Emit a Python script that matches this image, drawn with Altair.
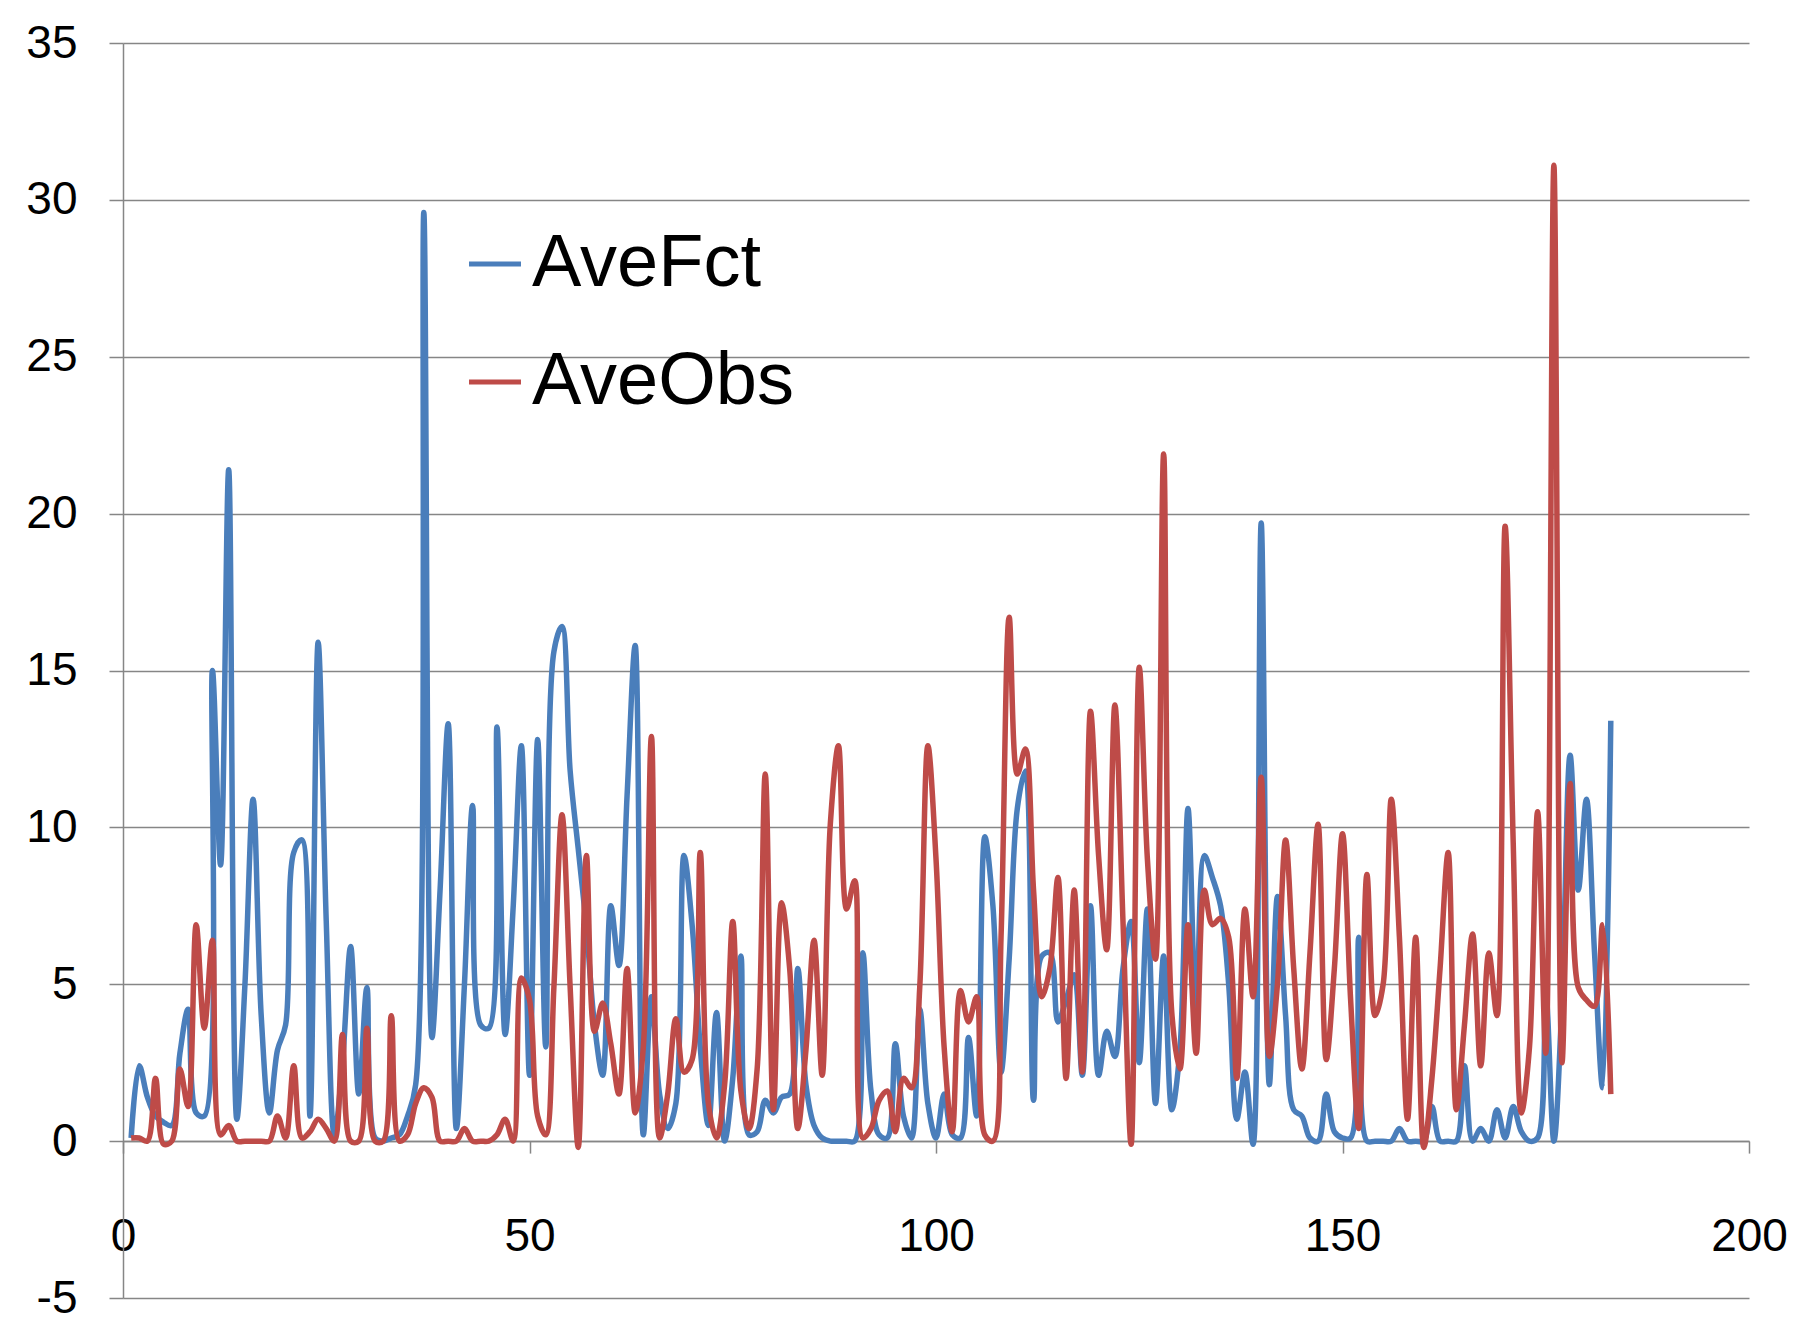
import altair as alt
import pandas as pd

x_vals = list(range(1, 184))

ave_fct = [
    0.1, 2.4, 1.4, 0.8, 0.6, 0.5, 2.8, 4.2, 0.9, 0.8,
    15.0, 8.8, 21.4, 0.7, 5.0, 10.9, 4.0, 0.9, 2.9, 3.7,
    9.2, 9.6, 0.8, 15.9, 7.0, 0.2, 2.5, 6.2, 1.5, 4.9,
    0.1, 0.0, 0.1, 0.2, 0.8, 1.8, 29.6, 3.3, 8.0, 13.3,
    0.4, 5.0, 10.7, 3.7, 3.6, 13.2, 3.4, 7.5, 12.6, 2.1,
    12.8, 3.0, 15.6, 16.4, 11.8, 9.3, 6.8, 3.7, 2.1, 7.5,
    5.6, 11.0, 15.8, 0.2, 4.6, 1.5, 0.4, 1.2, 9.1, 6.9,
    3.0, 0.5, 4.1, 0.0, 2.0, 5.9, 0.2, 0.3, 1.3, 0.9,
    1.4, 1.5, 5.5, 1.8, 0.5, 0.1, 0.0, 0.0, 0.0, 0.0,
    6.0, 1.6, 0.2, 0.1, 3.1, 0.8, 0.1, 4.2, 1.2, 0.1,
    1.5, 0.2, 0.1, 3.3, 0.8, 9.7, 7.5, 2.2, 5.8, 10.6,
    11.8, 1.3, 5.9, 6.0, 3.8, 4.5, 5.3, 2.1, 7.5, 2.1,
    3.5, 2.7, 5.5, 7.0, 2.5, 7.4, 1.2, 5.9, 1.0, 2.9,
    10.6, 4.1, 9.1, 8.4, 7.5, 5.0, 0.7, 2.2, -0.1, 19.7,
    1.8, 7.8, 4.0, 1.0, 0.8, 0.1, 0.0, 1.5, 0.3, 0.1,
    0.1, 6.5, 0.0, 0.0, 0.0, 0.0, 0.4, 0.0, 0.0, 0.0,
    1.1, 0.0, 0.0, 0.0, 2.4, 0.0, 0.4, 0.0, 1.0, 0.1,
    1.1, 0.3, 0.0, 0.1, 4.7, 0.0, 4.5, 12.3, 8.0, 10.9,
    6.0, 1.7, 13.4,
]

ave_obs = [
    0.1, 0.1, 0.0, 2.0, -0.1, 0.0, 2.3, 1.1, 6.9, 3.6,
    6.4, 0.2, 0.5, 0.0, 0.0, 0.0, 0.0, 0.0, 0.8, 0.1,
    2.4, 0.1, 0.3, 0.7, 0.4, 0.0, 3.4, 0.0, 0.0, 3.6,
    0.0, 0.0, 4.0, 0.0, 0.2, 1.2, 1.7, 1.4, 0.0, 0.0,
    0.0, 0.4, 0.0, 0.0, 0.0, 0.2, 0.7, 0.0, 5.2, 4.5,
    0.8, 0.2, 4.9, 10.4, 4.9, -0.2, 9.1, 3.5, 4.4, 3.1,
    1.5, 5.5, 0.9, 3.0, 12.9, 0.1, 1.5, 3.9, 2.2, 2.6,
    9.2, 1.2, 0.1, 1.8, 7.0, 1.6, 0.4, 2.3, 11.7, 1.0,
    7.6, 5.5, 0.4, 2.9, 6.4, 2.1, 10.1, 12.6, 7.4, 8.3,
    0.1, 0.4, 1.3, 1.6, 0.3, 2.0, 1.7, 4.9, 12.6, 9.0,
    3.0, 0.3, 4.8, 3.8, 4.6, 0.2, 0.0, 6.5, 16.7, 11.7,
    12.5, 8.0, 4.6, 5.5, 8.4, 2.0, 8.0, 2.2, 13.7, 9.1,
    6.1, 13.9, 7.0, -0.1, 15.1, 9.0, 5.8, 21.9, 4.1, 2.3,
    6.9, 2.8, 8.0, 6.9, 7.1, 6.5, 2.0, 7.4, 4.6, 11.6,
    2.7, 5.0, 9.6, 5.5, 2.3, 6.0, 10.1, 2.6, 5.5, 9.8,
    4.5, 0.4, 8.5, 4.0, 5.0, 10.9, 6.5, 0.7, 6.5, -0.2,
    2.0, 5.5, 9.2, 1.0, 3.7, 6.6, 2.4, 6.0, 4.0, 19.6,
    9.5, 0.9, 3.0, 10.5, 2.8, 31.1, 2.5, 11.4, 4.9, 4.5,
    4.3, 6.9, 1.5,
]

series_names = ["AveFct", "AveObs"]
series_colors = ["#4A7EBB", "#BE4B48"]
x_ticks = [0, 50, 100, 150, 200]
y_ticks = [-5, 0, 5, 10, 15, 20, 25, 30, 35]

df = pd.DataFrame({
    "x": x_vals + x_vals,
    "value": ave_fct + ave_obs,
    "series": [series_names[0]] * len(ave_fct) + [series_names[1]] * len(ave_obs),
})

FONT = "Liberation Sans, Arial, sans-serif"
GRID = "#868686"
HYPHEN_LABEL = "replace(datum.label, '\u2212', '-')"

chart = alt.Chart(df).mark_line(interpolate="catmull-rom", strokeWidth=5.5).encode(
    x=alt.X(
        "x:Q",
        scale=alt.Scale(domain=[0, 200], nice=False, zero=False),
        axis=alt.Axis(
            values=x_ticks, grid=False, title=None, offset=-156.9,
            domainColor=GRID, domainWidth=1.5, tickColor=GRID, tickWidth=1.5,
            tickSize=12, labelFontSize=46, labelFont=FONT, labelColor="black",
            labelPadding=61, labelFlush=False,
        ),
    ),
    y=alt.Y(
        "value:Q",
        scale=alt.Scale(domain=[-5, 35], nice=False, zero=False),
        axis=alt.Axis(
            values=y_ticks, title=None, grid=True, gridColor=GRID, gridWidth=1.5,
            domainColor=GRID, domainWidth=1.5, tickColor=GRID, tickWidth=1.5,
            tickSize=14, labelFontSize=46, labelFont=FONT, labelColor="black",
            labelPadding=32, labelFlush=False, labelExpr=HYPHEN_LABEL,
        ),
    ),
    color=alt.Color(
        "series:N",
        scale=alt.Scale(domain=series_names, range=series_colors),
        legend=alt.Legend(
            title=None, orient="none", legendX=335, legendY=184,
            symbolType="stroke", symbolSize=2700, symbolStrokeWidth=5,
            labelFontSize=74, labelFont=FONT, labelColor="black",
            labelOffset=0, rowPadding=44, labelLimit=1000,
        ),
    ),
).properties(
    width=1626,
    height=1255,
    autosize=alt.AutoSizeParams(type="none"),
    padding={"left": 115, "top": 35, "right": 40, "bottom": 25},
).configure_view(stroke=None)

chart.save("out.html", embed_options={"renderer": "svg", "actions": False})
